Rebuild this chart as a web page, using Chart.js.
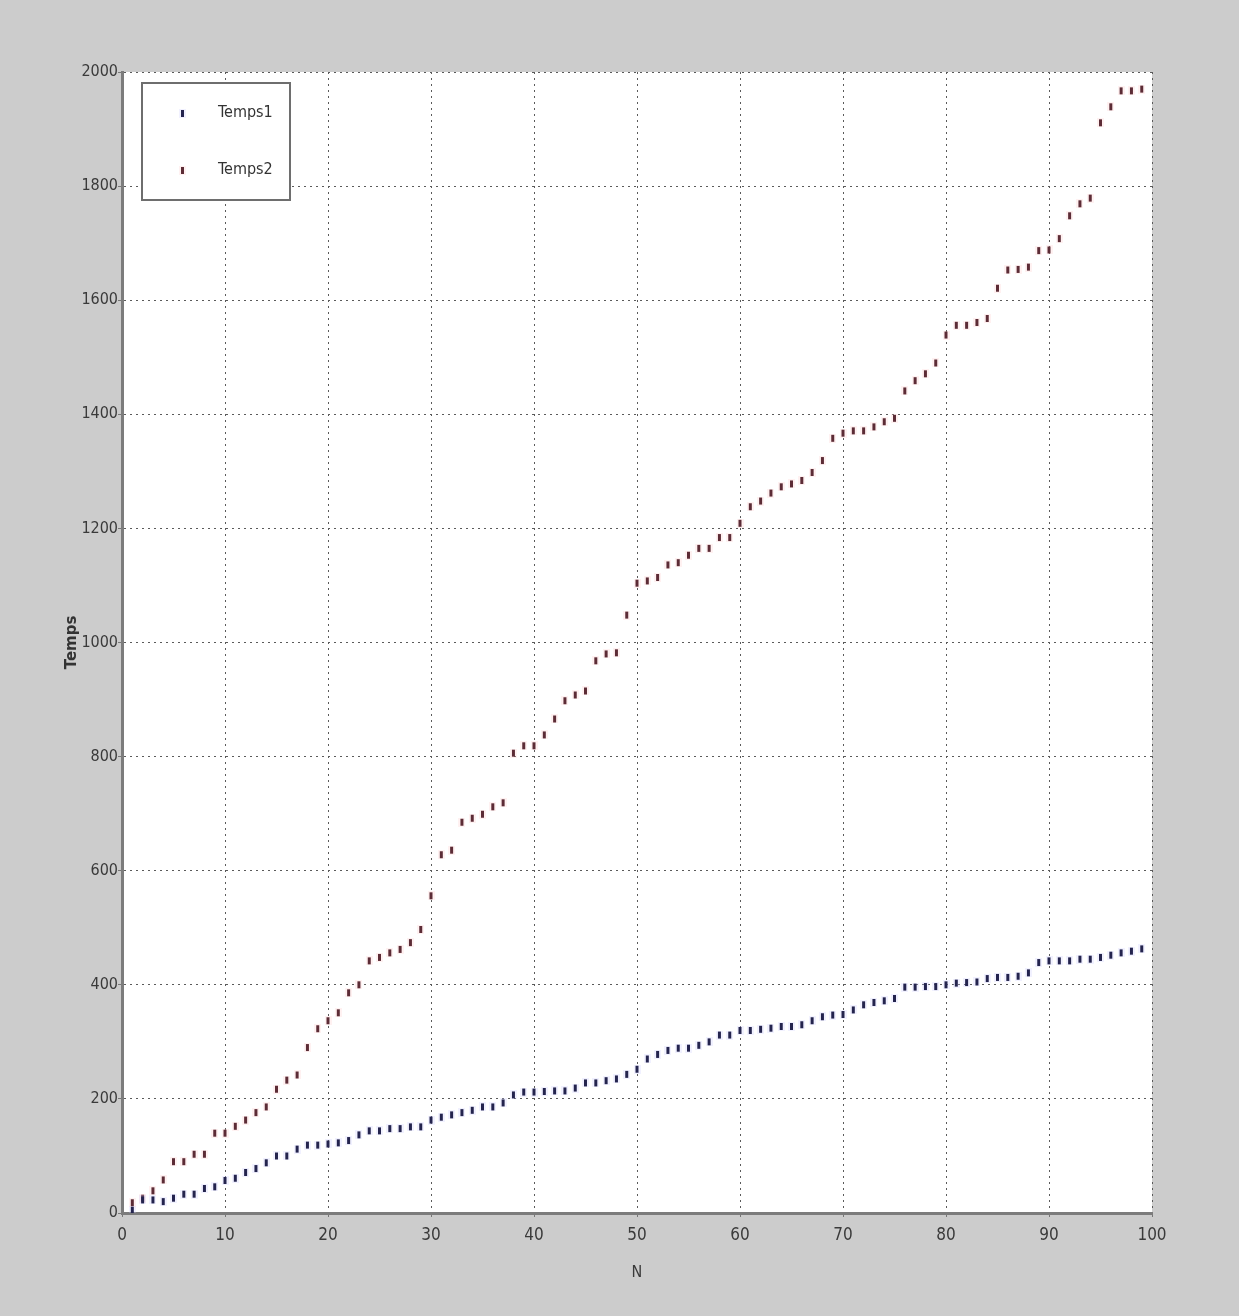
<!DOCTYPE html>
<html>
<head>
<meta charset="utf-8">
<title>Temps</title>
<script src="https://cdn.jsdelivr.net/npm/chart.js@4.4.1/dist/chart.umd.min.js"></script>
<style>
  html, body { margin: 0; padding: 0; background: #cccccc; }
  #wrap { width: 1239px; height: 1316px; position: relative; }
</style>
</head>
<body>
<div id="wrap"><canvas id="tempsChart"></canvas></div>
<script>
// N values (x)
const nValues = [1, 2, 3, 4, 5, 6, 7, 8, 9, 10, 11, 12, 13, 14, 15, 16, 17, 18, 19, 20,
  21, 22, 23, 24, 25, 26, 27, 28, 29, 30, 31, 32, 33, 34, 35, 36, 37, 38, 39, 40,
  41, 42, 43, 44, 45, 46, 47, 48, 49, 50, 51, 52, 53, 54, 55, 56, 57, 58, 59, 60,
  61, 62, 63, 64, 65, 66, 67, 68, 69, 70, 71, 72, 73, 74, 75, 76, 77, 78, 79, 80,
  81, 82, 83, 84, 85, 86, 87, 88, 89, 90, 91, 92, 93, 94, 95, 96, 97, 98, 99];

const temps1 = [5, 23, 23, 20, 26, 33, 33, 43, 46, 57, 61, 71, 78, 88, 100, 100, 112, 119, 119, 121,
  123, 127, 137, 144, 144, 148, 148, 151, 151, 163, 168, 172, 176, 180, 186, 186, 193, 207, 212, 212,
  213, 214, 214, 219, 228, 228, 232, 235, 243, 252, 270, 278, 285, 289, 289, 294, 300, 312, 312, 320,
  320, 322, 324, 327, 327, 330, 337, 344, 347, 348, 356, 365, 369, 372, 376, 396, 396, 397, 397, 400,
  403, 404, 405, 411, 413, 413, 415, 421, 439, 442, 442, 442, 445, 445, 448, 452, 456, 459, 463];

const temps2 = [18, 26, 39, 58, 90, 90, 103, 103, 140, 140, 152, 163, 176, 186, 217, 233, 242, 290, 323, 337,
  351, 386, 400, 442, 448, 456, 462, 474, 497, 556, 628, 636, 685, 692, 699, 712, 719, 806, 819, 819,
  838, 866, 898, 908, 915, 968, 980, 982, 1048, 1104, 1108, 1114, 1136, 1140, 1153, 1165, 1165, 1184, 1184, 1209,
  1238, 1248, 1262, 1273, 1278, 1284, 1298, 1319, 1358, 1367, 1371, 1371, 1378, 1387, 1393, 1441, 1459, 1471, 1490, 1539,
  1556, 1556, 1561, 1568, 1621, 1653, 1654, 1658, 1687, 1688, 1708, 1748, 1769, 1779, 1911, 1939, 1967, 1967, 1970];

const seriesNames = ['Temps1', 'Temps2'];
const seriesColors = ['#24244e', '#5c2c36'];

const narrowFont = "'DejaVu Sans Condensed', 'Liberation Sans Narrow', 'Liberation Sans', sans-serif";

// small vertical mark, like the matlab markers in the screenshot
function makeMarker(color, halo) {
  const c = document.createElement('canvas');
  c.width = 7;
  c.height = 9;
  const g = c.getContext('2d');
  g.fillStyle = halo;
  g.fillRect(0, 0, 7, 9);
  g.fillStyle = color;
  g.fillRect(2, 1, 3, 7);
  return c;
}

const markers = [
  makeMarker(seriesColors[0], 'rgba(200,200,255,0.25)'),
  makeMarker(seriesColors[1], 'rgba(255,200,200,0.25)')
];

function toPoints(ys) {
  return nValues.map((n, i) => ({ x: n, y: ys[i] }));
}

// white plot area + legend box
const plotDecor = {
  id: 'plotDecor',
  beforeDraw(chart) {
    const { ctx, chartArea: a } = chart;
    ctx.save();
    ctx.fillStyle = '#ffffff';
    ctx.fillRect(a.left, a.top, a.right - a.left, a.bottom - a.top);
    ctx.restore();
  },
  afterDraw(chart) {
    const ctx = chart.ctx;
    const a = chart.chartArea;
    const bx = a.left + 20, by = a.top + 11, bw = 148, bh = 117;
    ctx.save();
    ctx.fillStyle = '#ffffff';
    ctx.fillRect(bx, by, bw, bh);
    ctx.strokeStyle = '#6e6e6e';
    ctx.lineWidth = 2;
    ctx.strokeRect(bx, by, bw, bh);
    ctx.font = '16px ' + narrowFont;
    ctx.textBaseline = 'middle';
    seriesNames.forEach((name, i) => {
      const yy = by + 30 + i * 57;
      ctx.drawImage(markers[i], bx + 37, yy - 4);
      ctx.fillStyle = '#333333';
      ctx.fillText(name, bx + 76, yy);
    });
    ctx.restore();
  }
};

const gridOpts = { color: '#5a5a5a', lineWidth: 1, tickLength: 4, tickColor: '#777777', tickBorderDash: [] };
const borderOpts = { display: true, color: '#7c7c7c', width: 3, dash: [2, 4] };

new Chart(document.getElementById('tempsChart'), {
  type: 'scatter',
  data: {
    datasets: [
      { label: seriesNames[0], data: toPoints(temps1), pointStyle: markers[0], pointRadius: 4, backgroundColor: seriesColors[0], borderColor: seriesColors[0] },
      { label: seriesNames[1], data: toPoints(temps2), pointStyle: markers[1], pointRadius: 4, backgroundColor: seriesColors[1], borderColor: seriesColors[1] }
    ]
  },
  options: {
    responsive: true,
    maintainAspectRatio: false,
    animation: false,
    layout: { padding: { left: 60, top: 72, right: 87, bottom: 20 } },
    plugins: {
      legend: { display: false },
      tooltip: { enabled: false }
    },
    scales: {
      x: {
        type: 'linear',
        min: 0,
        max: 100,
        ticks: { stepSize: 10, color: '#3a3a3a', padding: 8, font: { family: narrowFont, size: 17 }, callback: v => String(v) },
        grid: gridOpts,
        border: borderOpts,
        title: { display: true, text: 'N', color: '#3a3a3a', font: { family: narrowFont, size: 16 }, padding: { top: 0, bottom: 14 } },
        afterFit(scale) { scale.height = 83; }
      },
      y: {
        min: 0,
        max: 2000,
        ticks: { stepSize: 200, color: '#3a3a3a', padding: 0, font: { family: narrowFont, size: 16 }, callback: v => String(v) },
        grid: gridOpts,
        border: borderOpts,
        title: { display: true, text: 'Temps', color: '#333333', font: { family: "'DejaVu Sans', sans-serif", size: 15, weight: 'bold' }, padding: { top: 3, bottom: 0 } },
        afterFit(scale) { scale.width = 62; }
      }
    }
  },
  plugins: [plotDecor]
});
</script>
</body>
</html>
